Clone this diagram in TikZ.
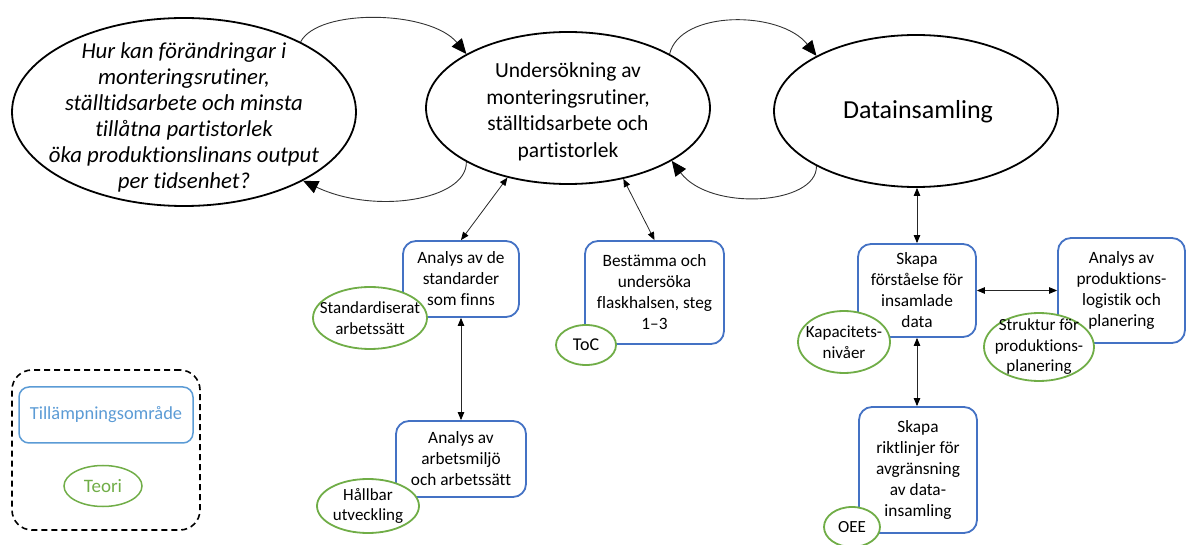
\documentclass[tikz,border=0pt]{standalone}
\usepackage{fontspec}
\setmainfont{Carlito}[Ligatures=NoCommon]
\usetikzlibrary{arrows.meta,shapes.geometric}
\definecolor{appblue}{HTML}{4472C4}
\definecolor{legblue}{HTML}{5B9BD5}
\definecolor{theorygreen}{HTML}{70AD47}
\begin{document}
\begin{tikzpicture}[x=1pt,y=-1pt,
  mainell/.style={ellipse, draw=black, line width=1.8pt, inner sep=0pt},
  maintext/.style={align=center, inner sep=0pt, font=\fontsize{21.5}{26.5}\selectfont},
  area/.style={draw=appblue, line width=1.8pt, rounded corners=13pt, fill=white,
    align=center, inner sep=0pt, font=\fontsize{17.3}{21}\selectfont},
  theory/.style={ellipse, draw=theorygreen, line width=1.8pt, fill=white, inner sep=0pt},
  ttext/.style={align=center, inner sep=0pt, font=\fontsize{17}{20.5}\selectfont},
  flow/.style={line width=0.9pt, draw=black!80,
    -{Triangle[length=15pt,width=13pt,color=black]}},
  link/.style={line width=0.8pt, draw=black!85,
    {Triangle[length=8pt,width=6.5pt,color=black]}-{Triangle[length=8pt,width=6.5pt,color=black]}}
]
\useasboundingbox (0,0) rectangle (1187,545);

% main process ellipses
\node[mainell, minimum width=344pt, minimum height=188pt] (e1) at (184,112) {};
\node[maintext, font=\fontsize{22.8}{26}\selectfont\itshape] (e1t) at (184,117)
  {Hur kan förändringar i\\monteringsrutiner,\\ställtidsarbete och minsta\\tillåtna partistorlek\\öka produktionslinans output\\per tidsenhet?};
\node[mainell, minimum width=284pt, minimum height=152pt] (e2) at (568,108) {};
\node[maintext] (e2t) at (568,112)
  {Undersökning av\\monteringsrutiner,\\ställtidsarbete och\\partistorlek};
\node[mainell, minimum width=284pt, minimum height=152pt] (e3) at (916,111) {};
\node[maintext, font=\fontsize{26}{30}\selectfont] (e3t) at (918,112) {Datainsamling};

% iteration arcs between the ellipses
\draw[flow] (e1.31) .. controls (318,8) and (430,10) .. (e2.152);
\draw[flow] (e2.208) .. controls (467,200) and (375,215) .. (e1.-30);
\draw[flow] (e2.28) .. controls (680,10) and (780,10) .. (e3.151);
\draw[flow] (e3.209) .. controls (817,205) and (710,212) .. (e2.-27);

% application areas
\node[area, minimum width=116pt, minimum height=76pt] (boxA) at (461,279)
  {Analys av de\\standarder\\som finns};
\node[area, minimum width=139pt, minimum height=103pt] (boxB) at (654.5,292.5)
  {Bestämma och\\undersöka\\flaskhalsen, steg\\1–3};
\node[area, minimum width=130pt, minimum height=76pt] (boxC) at (461,459)
  {Analys av\\arbetsmiljö\\och arbetssätt};
\node[area, minimum width=118pt, minimum height=93pt] (boxD) at (917,290.5)
  {Skapa\\förståelse för\\insamlade\\data};
\node[area, minimum width=127pt, minimum height=105pt] (boxE) at (1121.5,290.5)
  {Analys av\\produktions-\\logistik och\\planering};
\node[area, minimum width=118pt, minimum height=126pt] (boxF) at (918,470)
  {Skapa\\riktlinjer för\\avgränsning\\av data-\\insamling};

% theories
\node[theory, minimum width=114pt, minimum height=62pt] (th1) at (370,318) {};
\node[ttext] (th1t) at (th1) {Standardiserat\\arbetssätt};
\node[theory, minimum width=60pt, minimum height=40pt] (th2) at (586,345) {};
\node[ttext, font=\fontsize{18}{21}\selectfont] (th2t) at (th2) {ToC};
\node[theory, minimum width=102pt, minimum height=54pt] (th3) at (368,506) {};
\node[ttext] (th3t) at (th3) {Hållbar\\utveckling};
\node[theory, minimum width=92pt, minimum height=62pt] (th4) at (844,342) {};
\node[ttext] (th4t) at (th4) {Kapacitets-\\nivåer};
\node[theory, minimum width=110pt, minimum height=68pt] (th5) at (1039,347) {};
\node[ttext] (th5t) at (th5) {Struktur för\\produktions-\\planering};
\node[theory, minimum width=56pt, minimum height=40pt] (th6) at (852,527) {};
\node[ttext] (th6t) at (th6) {OEE};

% links between ellipses and areas
\draw[link] (e2.-131) -- (boxA.north);
\draw[link] (e2.-52) -- (boxB.north);
\draw[link] (boxD.north) -- (boxD.north |- e3.south);
\draw[link] (boxA.south) -- (boxC.north);
\draw[link] (boxD.east) -- (boxE.west);
\draw[link] (boxD.south) -- (boxD.south |- boxF.north);

% legend
\node[draw=black, dashed, dash pattern=on 6pt off 4pt, line width=1.6pt, rounded corners=20pt,
  minimum width=188pt, minimum height=160pt, inner sep=0pt] (legend) at (106,450) {};
\node[draw=legblue, line width=1.5pt, rounded corners=10pt, minimum width=174pt, minimum height=56pt,
  inner sep=0pt, text=legblue, font=\fontsize{18.4}{22}\selectfont] (legA) at (106,415) {Tillämpningsområde};
\node[ellipse, draw=theorygreen, line width=1.5pt, minimum width=78pt, minimum height=41pt,
  inner sep=0pt, text=theorygreen, font=\fontsize{19}{22}\selectfont] (legT) at (103,486) {Teori};
\end{tikzpicture}
\end{document}
